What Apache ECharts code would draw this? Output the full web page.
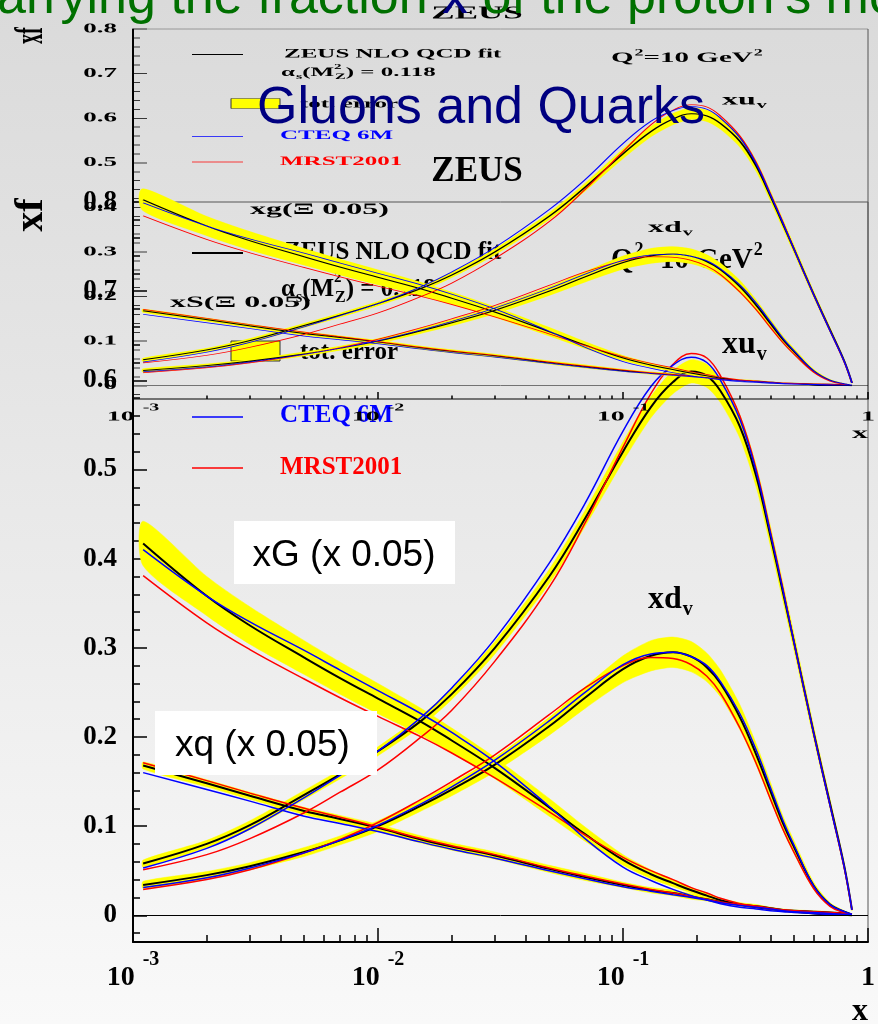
<!DOCTYPE html>
<html>
<head>
<meta charset="utf-8">
<title>Gluons and Quarks</title>
<script src="https://cdn.jsdelivr.net/npm/echarts@6/dist/echarts.min.js"></script>
<style>
    html, body { margin: 0; padding: 0; }
    body {
        width: 878px; height: 1024px; overflow: hidden; position: relative;
        background: linear-gradient(to bottom, #dadada 0%, #e9e9e9 50%, #f9f9f9 100%);
    }
    .layer { position: absolute; left: 0; width: 878px; }
    #main { top: 150px; height: 874px; }
    /* the small copy of the plot: same picture squeezed to half height */
    #inset { top: 3px; height: 874px; transform: scaleY(0.5); transform-origin: 0 0; }
    #over { top: 0; height: 1024px; }
</style>
</head>
<body>
<div id="main" class="layer"></div>
<div id="inset" class="layer"></div>
<div id="over" class="layer"></div>
<script>
    var SERIF = '"Liberation Serif", "Times New Roman", serif';
    var SANS = '"Liberation Sans", Arial, sans-serif';

    // x points of the curves
    var xs = [0.0011, 0.002, 0.003, 0.005, 0.007, 0.01, 0.015, 0.02, 0.03, 0.05, 0.07, 0.1, 0.13,
        0.16, 0.19, 0.22, 0.25, 0.3, 0.35, 0.4, 0.45, 0.5, 0.6, 0.7, 0.8, 0.86];

    // xu_v
    var xuvZeus = [0.058, 0.080, 0.101, 0.135, 0.158, 0.184, 0.218, 0.248, 0.300, 0.380, 0.445, 0.520, 0.570,
        0.598, 0.610, 0.605, 0.588, 0.548, 0.492, 0.425, 0.362, 0.305, 0.205, 0.125, 0.055, 0.006];
    var xuvBand = [0.004, 0.004, 0.005, 0.005, 0.005, 0.005, 0.006, 0.006, 0.007, 0.008, 0.009, 0.011, 0.012,
        0.013, 0.013, 0.013, 0.013, 0.013, 0.012, 0.011, 0.010, 0.009, 0.007, 0.005, 0.003, 0.001];
    var xuvCteq = [0.053, 0.075, 0.097, 0.132, 0.157, 0.184, 0.222, 0.255, 0.310, 0.395, 0.462, 0.543, 0.593,
        0.617, 0.626, 0.620, 0.600, 0.556, 0.497, 0.428, 0.364, 0.305, 0.204, 0.123, 0.054, 0.006];
    var xuvMrst = [0.051, 0.068, 0.086, 0.115, 0.138, 0.163, 0.200, 0.230, 0.285, 0.368, 0.440, 0.525, 0.585,
        0.618, 0.630, 0.625, 0.605, 0.560, 0.500, 0.430, 0.366, 0.305, 0.204, 0.123, 0.053, 0.006];

    // xd_v
    var xdvZeus = [0.034, 0.045, 0.055, 0.071, 0.084, 0.100, 0.123, 0.141, 0.169, 0.212, 0.244, 0.276, 0.291,
        0.295, 0.290, 0.278, 0.260, 0.222, 0.180, 0.139, 0.103, 0.076, 0.033, 0.012, 0.004, 0.001];
    var xdvBand = [0.004, 0.004, 0.004, 0.005, 0.005, 0.006, 0.006, 0.007, 0.008, 0.010, 0.012, 0.015, 0.017,
        0.017, 0.017, 0.016, 0.015, 0.014, 0.012, 0.010, 0.008, 0.007, 0.004, 0.002, 0.001, 0.000];
    var xdvCteq = [0.031, 0.042, 0.053, 0.070, 0.084, 0.101, 0.125, 0.144, 0.174, 0.218, 0.250, 0.281, 0.293,
        0.295, 0.290, 0.280, 0.262, 0.226, 0.185, 0.143, 0.106, 0.078, 0.033, 0.012, 0.004, 0.001];
    var xdvMrst = [0.029, 0.040, 0.051, 0.070, 0.085, 0.104, 0.130, 0.150, 0.180, 0.225, 0.255, 0.280, 0.289,
        0.288, 0.281, 0.268, 0.249, 0.210, 0.170, 0.130, 0.096, 0.070, 0.030, 0.010, 0.003, 0.001];

    // xg (x 0.05)
    var xgZeus = [0.417, 0.358, 0.325, 0.289, 0.266, 0.243, 0.217, 0.196, 0.165, 0.121, 0.091, 0.062, 0.046,
        0.036, 0.028, 0.022, 0.017, 0.012, 0.009, 0.007, 0.005, 0.004, 0.002, 0.001, 0.0005, 0.0];
    var xgBand = [0.025, 0.022, 0.021, 0.019, 0.018, 0.017, 0.015, 0.014, 0.012, 0.010, 0.008, 0.006, 0.005,
        0.004, 0.003, 0.003, 0.002, 0.002, 0.001, 0.001, 0.001, 0.001, 0.0, 0.0, 0.0, 0.0];
    var xgCteq = [0.410, 0.358, 0.329, 0.297, 0.275, 0.252, 0.226, 0.205, 0.172, 0.122, 0.086, 0.054, 0.039,
        0.029, 0.022, 0.017, 0.013, 0.009, 0.007, 0.005, 0.004, 0.003, 0.002, 0.001, 0.0005, 0.0];
    var xgMrst = [0.381, 0.328, 0.298, 0.265, 0.244, 0.223, 0.200, 0.182, 0.154, 0.116, 0.090, 0.065, 0.050,
        0.040, 0.031, 0.025, 0.019, 0.013, 0.010, 0.007, 0.006, 0.005, 0.003, 0.001, 0.0005, 0.0];

    // xS (x 0.05)
    var xsZeus = [0.168, 0.148, 0.134, 0.117, 0.108, 0.098, 0.085, 0.077, 0.067, 0.052, 0.043, 0.034, 0.028,
        0.025, 0.021, 0.018, 0.015, 0.012, 0.010, 0.008, 0.006, 0.005, 0.004, 0.003, 0.002, 0.001];
    var xsBand = [0.004, 0.004, 0.004, 0.004, 0.004, 0.004, 0.004, 0.004, 0.004, 0.004, 0.004, 0.003, 0.003,
        0.003, 0.003, 0.002, 0.002, 0.002, 0.002, 0.001, 0.001, 0.001, 0.001, 0.001, 0.0, 0.0];
    var xsCteq = [0.160, 0.141, 0.128, 0.111, 0.103, 0.094, 0.082, 0.074, 0.064, 0.050, 0.041, 0.032, 0.027,
        0.023, 0.020, 0.017, 0.014, 0.011, 0.009, 0.007, 0.005, 0.004, 0.003, 0.002, 0.001, 0.001];
    var xsMrst = [0.171, 0.151, 0.137, 0.120, 0.110, 0.099, 0.086, 0.078, 0.068, 0.053, 0.044, 0.035, 0.029,
        0.025, 0.021, 0.018, 0.015, 0.012, 0.010, 0.008, 0.006, 0.005, 0.004, 0.003, 0.002, 0.001];

    // tick labels
    var xTickVals = [0.001, 0.01, 0.1, 1];
    var xTickBase = ['10', '10', '10', '1'];
    var xTickExp = ['-3', '-2', '-1', ''];
    var xMinorTicks = [2, 3, 4, 5, 6, 7, 8, 9];
    var yTickVals = [0, 0.1, 0.2, 0.3, 0.4, 0.5, 0.6, 0.7, 0.8];
    var yTickText = ['0', '0.1', '0.2', '0.3', '0.4', '0.5', '0.6', '0.7', '0.8'];

    var curves = [
        { zeus: xuvZeus, band: xuvBand, cteq: xuvCteq, mrst: xuvMrst },
        { zeus: xdvZeus, band: xdvBand, cteq: xdvCteq, mrst: xdvMrst },
        { zeus: xgZeus, band: xgBand, cteq: xgCteq, mrst: xgMrst },
        { zeus: xsZeus, band: xsBand, cteq: xsCteq, mrst: xsMrst }
    ];

    var SMOOTH = 0.4;

    function pairs(vals) {
        return xs.map(function (x, i) { return [x, vals[i]]; });
    }

    function tok(size, extra) {
        var s = {
            fontSize: size, fontWeight: 'bold', fontFamily: SERIF, lineHeight: size,
            verticalAlign: 'top', color: '#000', fill: '#000'
        };
        for (var k in extra) s[k] = extra[k];
        return s;
    }

    function txt(x, y, text, size, opts) {
        opts = opts || {};
        return {
            type: 'text', x: x, y: y, rotation: opts.rotation || 0, silent: true,
            style: {
                text: text, fill: opts.color || '#000',
                fontSize: size, fontWeight: 'bold', fontFamily: opts.family || SERIF,
                align: opts.align || 'left', verticalAlign: 'middle',
                rich: opts.rich
            }
        };
    }

    // yellow error band as one filled polygon, placed with the chart's own axes
    function bandSeries(c) {
        var rows = xs.map(function (x, i) { return [x, c.zeus[i] - c.band[i], c.zeus[i] + c.band[i]]; });
        return {
            type: 'custom', silent: true, data: rows,
            encode: { x: 0, y: [1, 2] },
            renderItem: function (params, api) {
                if (params.dataIndex !== 0) return null;
                var upper = rows.map(function (r) { return api.coord([r[0], r[2]]); });
                var lower = rows.map(function (r) { return api.coord([r[0], r[1]]); }).reverse();
                return {
                    type: 'polygon',
                    shape: { points: upper.concat(lower), smooth: 0.25 },
                    style: { fill: '#ffff00', stroke: '#ffff00', lineWidth: 0.5 }
                };
            }
        };
    }

    function makeOption() {
        var series = [];
        curves.forEach(function (c) { series.push(bandSeries(c)); });
        curves.forEach(function (c, k) {
            var s = {
                type: 'line', name: 'ZEUS NLO QCD fit', symbol: 'none', smooth: SMOOTH, silent: true,
                data: pairs(c.zeus), lineStyle: { color: '#000000', width: 2 }
            };
            if (k === 0) {
                s.markLine = {
                    silent: true, symbol: 'none', label: { show: false },
                    lineStyle: { color: '#000', width: 1, type: 'solid' },
                    data: [{ yAxis: 0 }]
                };
            }
            series.push(s);
        });
        curves.forEach(function (c) {
            series.push({
                type: 'line', name: 'MRST2001', symbol: 'none', smooth: SMOOTH, silent: true,
                data: pairs(c.mrst), lineStyle: { color: '#ff0000', width: 1.5 }
            });
        });
        curves.forEach(function (c) {
            series.push({
                type: 'line', name: 'CTEQ 6M', symbol: 'none', smooth: SMOOTH, silent: true,
                data: pairs(c.cteq), lineStyle: { color: '#0000ff', width: 1.5 }
            });
        });

        var minorLog = [];
        [-3, -2, -1].forEach(function (d) {
            xMinorTicks.forEach(function (m) { minorLog.push(d + Math.log10(m)); });
        });

        var sub = { t: tok(25), s: tok(16, { padding: [12, 0, 0, 1] }) };
        var vsub = { t: tok(32), v: tok(20, { padding: [16, 0, 0, 1] }) };

        var graphic = [
            txt(477, 22, 'ZEUS', 35, { align: 'center' }),
            txt(32, 65, 'xf', 40, { align: 'center', rotation: Math.PI / 2 }),
            txt(860, 862, 'x', 32, { align: 'center' }),
            { type: 'line', silent: true, shape: { x1: 192, y1: 103, x2: 243, y2: 103 }, style: { stroke: '#000', lineWidth: 2 } },
            txt(284, 103, 'ZEUS NLO QCD fit', 25),
            txt(281, 140, '{t|α}{s|s}{t|(M}{s|Z}{t|) = 0.118}', 25, { rich: sub }),
            txt(334, 128, '2', 15),
            { type: 'rect', silent: true, shape: { x: 231, y: 191, width: 49, height: 20 }, style: { fill: '#ffff00', stroke: '#333', lineWidth: 1 } },
            txt(300, 203, 'tot. error', 25),
            { type: 'line', silent: true, shape: { x1: 192, y1: 267, x2: 243, y2: 267 }, style: { stroke: '#0000ff', lineWidth: 1.5 } },
            txt(280, 266, 'CTEQ 6M', 25, { color: '#0000ff' }),
            { type: 'line', silent: true, shape: { x1: 192, y1: 318, x2: 243, y2: 318 }, style: { stroke: '#ff0000', lineWidth: 1.5 } },
            txt(280, 318, 'MRST2001', 25, { color: '#ff0000' }),
            txt(611, 103, '{t|Q}{u|2}{t|=10 GeV}{u|2}', 29, {
                rich: { t: tok(29, { padding: [8, 0, 0, 0] }), u: tok(18, { padding: [3, 0, 0, 1] }) }
            }),
            txt(722, 195, '{t|xu}{v|v}', 32, { rich: vsub }),
            txt(648, 450, '{t|xd}{v|v}', 32, { rich: vsub }),
            txt(250, 414, 'xg(Ξ 0.05)', 32),
            txt(170, 600, 'xS(Ξ 0.05)', 32)
        ];

        return {
            animation: false,
            grid: {
                left: 133, right: 10, top: 52, bottom: 82, show: true,
                borderColor: '#555', borderWidth: 1, backgroundColor: 'transparent'
            },
            xAxis: [{
                type: 'log', logBase: 10, min: 0.001, max: 1, position: 'bottom',
                axisLine: { onZero: false, lineStyle: { color: '#000', width: 2 } },
                axisTick: { inside: true, length: 14, lineStyle: { color: '#000', width: 1.5 } },
                splitLine: { show: false },
                axisLabel: {
                    margin: 8, color: '#000',
                    formatter: function (v) {
                        var i = xTickVals.findIndex(function (t) { return Math.abs(Math.log10(v / t)) < 1e-6; });
                        if (i < 0) return '';
                        if (!xTickExp[i]) return '{b|' + xTickBase[i] + '}';
                        return '{b|' + xTickBase[i] + '}{e|' + xTickExp[i] + '}';
                    },
                    rich: {
                        b: tok(28, { padding: [14, 0, 0, 0] }),
                        e: tok(20, { padding: [0, 0, 22, 8] })
                    }
                }
            }, {
                // minor log ticks at 2..9 of each decade
                type: 'value', min: -3, max: 0, position: 'bottom',
                axisLine: { show: false, onZero: false },
                axisTick: { inside: true, length: 7, customValues: minorLog, lineStyle: { color: '#000', width: 1.5 } },
                axisLabel: { show: false },
                splitLine: { show: false }
            }],
            yAxis: {
                type: 'value', min: -0.03, max: 0.8, splitNumber: 8,
                axisLine: { onZero: false, lineStyle: { color: '#000', width: 2 } },
                axisTick: { inside: true, length: 14, lineStyle: { color: '#000', width: 1.5 } },
                minorTick: { show: true, splitNumber: 5, length: 7, lineStyle: { color: '#000', width: 1.5 } },
                splitLine: { show: false },
                axisLabel: {
                    margin: 16, color: '#000', fontSize: 27, fontWeight: 'bold', fontFamily: SERIF,
                    formatter: function (v) {
                        var i = yTickVals.findIndex(function (t) { return Math.abs(v - t) < 1e-6; });
                        return i < 0 ? '' : yTickText[i];
                    }
                }
            },
            series: series,
            graphic: graphic
        };
    }

    var mainChart = echarts.init(document.getElementById('main'));
    mainChart.setOption(makeOption());

    var insetChart = echarts.init(document.getElementById('inset'));
    insetChart.setOption(makeOption());

    // slide texts laid over both plots
    var overChart = echarts.init(document.getElementById('over'));
    overChart.setOption({
        animation: false,
        graphic: [
            {
                type: 'text', x: -29, y: -1, silent: true,
                style: {
                    text: '{g|carrying the fraction }{n|x}{g| of the proton’s momentum}',
                    verticalAlign: 'middle',
                    rich: {
                        g: { fontSize: 52, fontFamily: SANS, fill: '#007000', color: '#007000' },
                        n: { fontSize: 52, fontFamily: SANS, fill: '#000080', color: '#000080' }
                    }
                }
            },
            {
                type: 'text', x: 257, y: 109, silent: true,
                style: { text: 'Gluons and Quarks', fontSize: 52, fontFamily: SANS, fill: '#000080', verticalAlign: 'middle' }
            },
            { type: 'rect', silent: true, shape: { x: 234, y: 521, width: 221, height: 63 }, style: { fill: '#ffffff' } },
            {
                type: 'text', x: 344, y: 556, silent: true,
                style: { text: 'xG (x 0.05)', fontSize: 37, fontFamily: SANS, fill: '#000', align: 'center', verticalAlign: 'middle' }
            },
            { type: 'rect', silent: true, shape: { x: 155, y: 711, width: 222, height: 64 }, style: { fill: '#ffffff' } },
            {
                type: 'text', x: 175, y: 746, silent: true,
                style: { text: 'xq (x 0.05)', fontSize: 37, fontFamily: SANS, fill: '#000', verticalAlign: 'middle' }
            }
        ]
    });

    window.addEventListener('resize', function () {
        mainChart.resize();
        insetChart.resize();
        overChart.resize();
    });
</script>
</body>
</html>
